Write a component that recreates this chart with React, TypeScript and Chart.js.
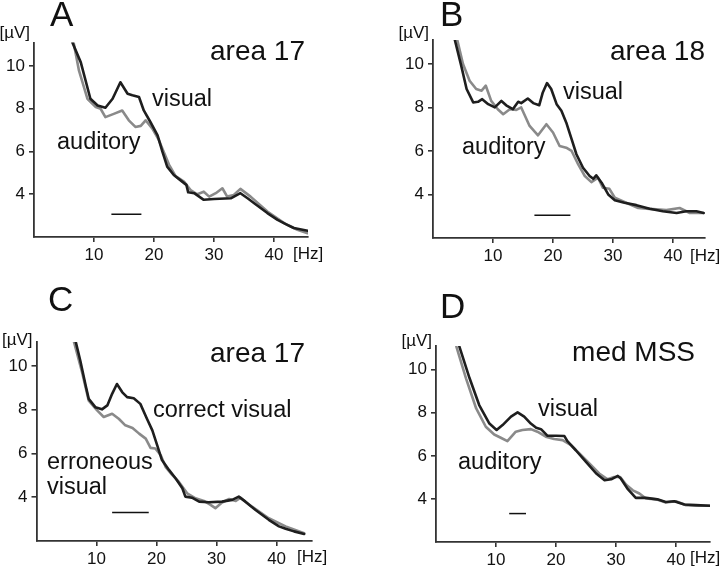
import React, { useEffect, useRef } from "react";
import { Chart, registerables } from "chart.js";
Chart.register(...registerables);

const FONT = "'Liberation Sans', Arial, sans-serif";
const xTicks = [10, 20, 30, 40];
const yTicks = [4, 6, 8, 10];
const yMin = 2;
const yMax = 11.1;

// Panel A (area 17)
const aVisHz = [6.4, 7.8, 9.4, 10.6, 11.9, 13.1, 14.4, 15.6, 16.4, 17.5, 18.3, 19.4, 20.6, 21.4, 22.2, 23.3, 24.7, 25.4, 25.7, 26.7, 28.3, 30, 32.8, 34.4, 35.6, 36.7, 38.9, 40.6, 42.2, 43.3, 45.6];
const aVisUv = [11.1, 10.17, 8.47, 8.15, 8.05, 8.47, 9.24, 8.7, 8.63, 8.55, 7.92, 7.38, 6.76, 5.99, 5.29, 4.9, 4.59, 4.44, 4.09, 4.05, 3.74, 3.78, 3.81, 4.05, 3.81, 3.58, 3.12, 2.8, 2.57, 2.42, 2.29];
const aAudHz = [6.6, 7.5, 8.9, 10.3, 11.1, 11.9, 13.3, 14.7, 15.8, 16.9, 17.8, 18.6, 19.7, 20.8, 21.7, 22.5, 23.6, 25, 26.1, 27.2, 28.3, 29.2, 30.3, 31.4, 32.2, 33.3, 34.4, 36.1, 38.9, 41.7, 43.9, 45.6];
const aAudUv = [11.1, 9.78, 8.47, 8.08, 8.0, 7.61, 7.76, 7.92, 7.46, 7.15, 7.2, 7.46, 7.08, 6.54, 5.93, 5.39, 4.85, 4.59, 4.2, 4.0, 4.12, 3.89, 4.05, 4.28, 3.89, 3.97, 4.25, 3.89, 3.19, 2.65, 2.34, 2.18];
const aSigHz = [12.9, 17.9];
const aSigUv = 3.07;

// Panel B (area 18)
const bVisHz = [3.6, 4.7, 5.6, 6.7, 7.5, 8.2, 9.2, 10.3, 11.4, 12.2, 13.3, 14.2, 14.7, 15.8, 16.7, 17.7, 18.3, 19, 19.7, 20.6, 21.4, 22.2, 23.1, 23.9, 25, 26.1, 26.7, 27.2, 28.1, 29.2, 30.3, 31.9, 33.9, 36.1, 38.3, 40.6, 42.2, 43.9, 45.1];
const bVisUv = [11.15, 9.92, 8.85, 8.23, 8.26, 8.38, 8.15, 8.0, 8.3, 8.1, 7.92, 8.26, 8.2, 8.41, 8.2, 8.1, 8.69, 9.12, 8.85, 8.15, 7.85, 7.31, 6.54, 5.85, 5.23, 4.85, 4.72, 4.88, 4.54, 4.0, 3.74, 3.62, 3.51, 3.34, 3.23, 3.15, 3.23, 3.23, 3.15];
const bAudHz = [4, 5, 6.1, 7.2, 8.1, 8.8, 9.7, 10.8, 11.7, 12.8, 13.9, 14.7, 16.1, 17.5, 18.9, 20, 21.1, 22.2, 23.1, 24.2, 25.3, 26.4, 27.5, 28.3, 29.4, 30.3, 32.2, 34.2, 36.1, 38.9, 41.1, 42.8, 45.1];
const bAudUv = [11.15, 10.0, 9.23, 8.85, 8.77, 9.0, 8.3, 7.92, 7.69, 7.92, 7.89, 8.0, 7.15, 6.72, 7.23, 6.85, 6.23, 6.15, 6.0, 5.38, 4.85, 4.57, 4.77, 4.31, 4.26, 3.85, 3.62, 3.38, 3.34, 3.28, 3.38, 3.15, 3.15];
const bSigHz = [16.9, 22.9];
const bSigUv = 3.05;

// Panel C (area 17, correct vs erroneous)
const cCorHz = [6.5, 7.3, 8.2, 8.7, 9.8, 10.9, 11.8, 12.6, 13.4, 14.3, 15.1, 16.2, 17.3, 18.4, 19.3, 20.1, 20.9, 22.1, 23.2, 24.3, 24.8, 25.9, 27.1, 28.7, 30.9, 32.6, 33.7, 34.8, 36.5, 38.7, 40.4, 41.5, 42.9, 44.6];
const cCorUv = [11.15, 10.24, 9.1, 8.5, 8.12, 8.02, 8.2, 8.73, 9.18, 8.8, 8.58, 8.53, 8.27, 7.59, 7.06, 6.38, 5.7, 5.24, 4.86, 4.41, 4.03, 3.98, 3.8, 3.77, 3.8, 3.88, 4.03, 3.8, 3.42, 2.97, 2.67, 2.56, 2.44, 2.32];
const cErrHz = [6.2, 7.6, 8.7, 10.1, 11.2, 12.6, 13.7, 14.8, 16, 17.1, 18.2, 19, 19.8, 20.7, 21.5, 22.6, 23.7, 25.1, 26.5, 27.9, 29, 29.8, 30.9, 32.1, 33.2, 34, 35.9, 38.7, 41.5, 44.6];
const cErrUv = [11.15, 9.71, 8.42, 7.97, 7.67, 7.82, 7.59, 7.29, 7.17, 6.91, 6.68, 6.26, 6.23, 5.92, 5.39, 5.02, 4.71, 4.18, 3.95, 3.83, 3.65, 3.5, 3.76, 3.92, 3.83, 3.98, 3.57, 3.04, 2.67, 2.36];
const cSigHz = [12.6, 18.7];
const cSigUv = 3.3;

// Panel D (med MSS)
const dVisHz = [3.9, 5.6, 7.2, 8.9, 10.1, 11.1, 12.5, 13.6, 14.7, 15.8, 16.7, 17.5, 18.6, 20, 21.4, 21.9, 23.3, 25, 26.7, 28.1, 29.2, 30.3, 30.8, 31.9, 33.3, 35, 36.9, 38.3, 39.7, 41.4, 43.3, 45.8];
const dVisUv = [11.07, 9.6, 8.36, 7.5, 7.2, 7.43, 7.82, 8.02, 7.82, 7.5, 7.3, 7.24, 6.93, 6.93, 6.92, 6.68, 6.26, 5.72, 5.18, 4.87, 4.91, 5.07, 4.95, 4.48, 4.05, 4.05, 3.98, 3.86, 3.89, 3.74, 3.71, 3.68];
const dAudHz = [3.4, 5, 6.7, 8.3, 9.7, 10.8, 11.9, 13.3, 14.4, 15.8, 16.9, 18.3, 19.7, 21.1, 22.5, 23.9, 25.6, 27.2, 28.6, 29.7, 30.7, 31.7, 32.8, 33.9, 35, 36.7, 38.3, 40, 41.7, 43.9, 45.8];
const dAudUv = [11.07, 9.6, 8.2, 7.35, 6.99, 6.84, 6.68, 7.12, 7.2, 7.24, 7.12, 6.89, 6.78, 6.73, 6.5, 6.11, 5.64, 5.18, 4.91, 5.02, 5.02, 4.66, 4.4, 4.25, 4.02, 3.98, 3.83, 3.89, 3.71, 3.68, 3.68];
const dSigHz = [12.2, 15.0];
const dSigUv = 3.32;

const DARK = "#1e1e1e";
const GRAY = "#8a8a8a";
const AXIS = "#333333";
const W = 360;
const H = 283;
const XH = 30;

type Label = { text: string; x: number; y: number };
type Panel = {
  ox: number; oy: number;
  left: number; top: number; right: number; bottom: number; xMax: number;
  letter: string; letterY: number; letterX: number;
  title: string; titleRight: number; titleY: number;
  unitY: number; hzX: number; hzY: number;
  labels: Label[];
  dark: [number[], number[]];
  gray: [number[], number[]];
  sig: [number[], number];
};

const panels: Panel[] = [
  {
    ox: 0, oy: 0, left: 34, top: 42.5, right: 308, bottom: 237, xMax: 45.67,
    letter: "A", letterX: 50, letterY: 26, title: "area 17", titleRight: 305, titleY: 52,
    unitY: 33, hzX: 293, hzY: 254,
    labels: [{ text: "visual", x: 152, y: 100 }, { text: "auditory", x: 57, y: 143 }],
    dark: [aVisHz, aVisUv], gray: [aAudHz, aAudUv], sig: [aSigHz, aSigUv],
  },
  {
    ox: 360, oy: 0, left: 73, top: 40, right: 345, bottom: 238, xMax: 45.33,
    letter: "B", letterX: 80, letterY: 26, title: "area 18", titleRight: 345, titleY: 52,
    unitY: 33, hzX: 330, hzY: 256,
    labels: [{ text: "visual", x: 203, y: 93 }, { text: "auditory", x: 102, y: 148 }],
    dark: [bVisHz, bVisUv], gray: [bAudHz, bAudUv], sig: [bSigHz, bSigUv],
  },
  {
    ox: 0, oy: 283, left: 36.5, top: 59, right: 312, bottom: 258, xMax: 45.9,
    letter: "C", letterX: 48, letterY: 28, title: "area 17", titleRight: 305, titleY: 71,
    unitY: 57, hzX: 297, hzY: 274,
    labels: [
      { text: "correct visual", x: 153, y: 128 },
      { text: "erroneous", x: 47, y: 180 },
      { text: "visual", x: 47, y: 205 },
    ],
    dark: [cCorHz, cCorUv], gray: [cErrHz, cErrUv], sig: [cSigHz, cSigUv],
  },
  {
    ox: 360, oy: 283, left: 76, top: 63, right: 350, bottom: 259, xMax: 45.67,
    letter: "D", letterX: 80, letterY: 35, title: "med MSS", titleRight: 335, titleY: 70,
    unitY: 58, hzX: 330, hzY: 275,
    labels: [{ text: "visual", x: 178, y: 127 }, { text: "auditory", x: 98, y: 180 }],
    dark: [dVisHz, dVisUv], gray: [dAudHz, dAudUv], sig: [dSigHz, dSigUv],
  },
];

function pts(hz: number[], uv: number[]) {
  const n = Math.min(hz.length, uv.length);
  const out: { x: number; y: number }[] = [];
  for (let i = 0; i < n; i++) out.push({ x: hz[i], y: uv[i] });
  return out;
}

function PanelChart({ p }: { p: Panel }) {
  const ref = useRef<HTMLCanvasElement | null>(null);
  useEffect(() => {
    if (!ref.current) return;
    const textPlugin = {
      id: "panelText",
      afterDraw(chart: any) {
        const ctx = chart.ctx as CanvasRenderingContext2D;
        ctx.save();
        ctx.fillStyle = "#111";
        ctx.textBaseline = "alphabetic";
        ctx.textAlign = "left";
        ctx.font = `35px ${FONT}`;
        ctx.fillText(p.letter, p.letterX, p.letterY);
        ctx.textBaseline = "middle";
        ctx.textAlign = "right";
        ctx.font = `28px ${FONT}`;
        ctx.fillText(p.title, p.titleRight, p.titleY);
        ctx.font = `17px ${FONT}`;
        ctx.fillText("[µV]", p.left - 4, p.unitY);
        ctx.textAlign = "left";
        ctx.fillText("[Hz]", p.hzX, p.hzY);
        ctx.font = `23.5px ${FONT}`;
        for (const l of p.labels) ctx.fillText(l.text, l.x, l.y);
        ctx.restore();
      },
    };
    const lineBase = { pointRadius: 0, tension: 0, fill: false, borderJoinStyle: "round", borderCapStyle: "round" };
    const chart = new Chart(ref.current, {
      type: "line",
      data: {
        datasets: [
          { ...lineBase, data: pts(p.dark[0], p.dark[1]), borderColor: DARK, borderWidth: 2.6 },
          { ...lineBase, data: pts(p.gray[0], p.gray[1]), borderColor: GRAY, borderWidth: 2.6 },
          { ...lineBase, data: pts(p.sig[0], [p.sig[1], p.sig[1]]), borderColor: "#111", borderWidth: 1.5, borderCapStyle: "butt" },
        ],
      },
      options: {
        animation: false,
        responsive: false,
        maintainAspectRatio: false,
        devicePixelRatio: 1,
        events: [],
        layout: {
          autoPadding: false,
          padding: { left: 0, top: p.top, right: W - p.right, bottom: H - p.bottom - XH },
        },
        plugins: { legend: { display: false }, tooltip: { enabled: false }, title: { display: false } },
        scales: {
          x: {
            type: "linear",
            min: 0,
            max: p.xMax,
            afterFit: (s: any) => { s.height = XH; },
            afterBuildTicks: (s: any) => { s.ticks = xTicks.map((v) => ({ value: v })); },
            grid: { drawOnChartArea: false, drawTicks: true, tickLength: 5, color: AXIS, lineWidth: 1.6 },
            border: { display: true, color: AXIS, width: 1.8 },
            ticks: { font: { family: FONT, size: 17 }, color: "#111", padding: 3, maxRotation: 0, autoSkip: false },
          },
          y: {
            type: "linear",
            min: yMin,
            max: yMax,
            afterFit: (s: any) => { s.width = p.left; },
            afterBuildTicks: (s: any) => { s.ticks = yTicks.map((v) => ({ value: v })); },
            grid: { drawOnChartArea: false, drawTicks: true, tickLength: 5, color: AXIS, lineWidth: 1.6 },
            border: { display: true, color: AXIS, width: 1.8 },
            ticks: { font: { family: FONT, size: 17 }, color: "#111", padding: 4, autoSkip: false },
          },
        },
      } as any,
      plugins: [textPlugin],
    });
    return () => chart.destroy();
  }, [p]);
  return (
    <canvas
      ref={ref}
      width={W}
      height={H}
      style={{ position: "absolute", left: p.ox, top: p.oy, width: W, height: H, display: "block" }}
    />
  );
}

export default function App() {
  return (
    <div style={{ position: "fixed", left: 0, top: 0, width: 720, height: 566, background: "#fff", overflow: "hidden" }}>
      {panels.map((p) => (
        <PanelChart key={p.letter} p={p} />
      ))}
    </div>
  );
}
